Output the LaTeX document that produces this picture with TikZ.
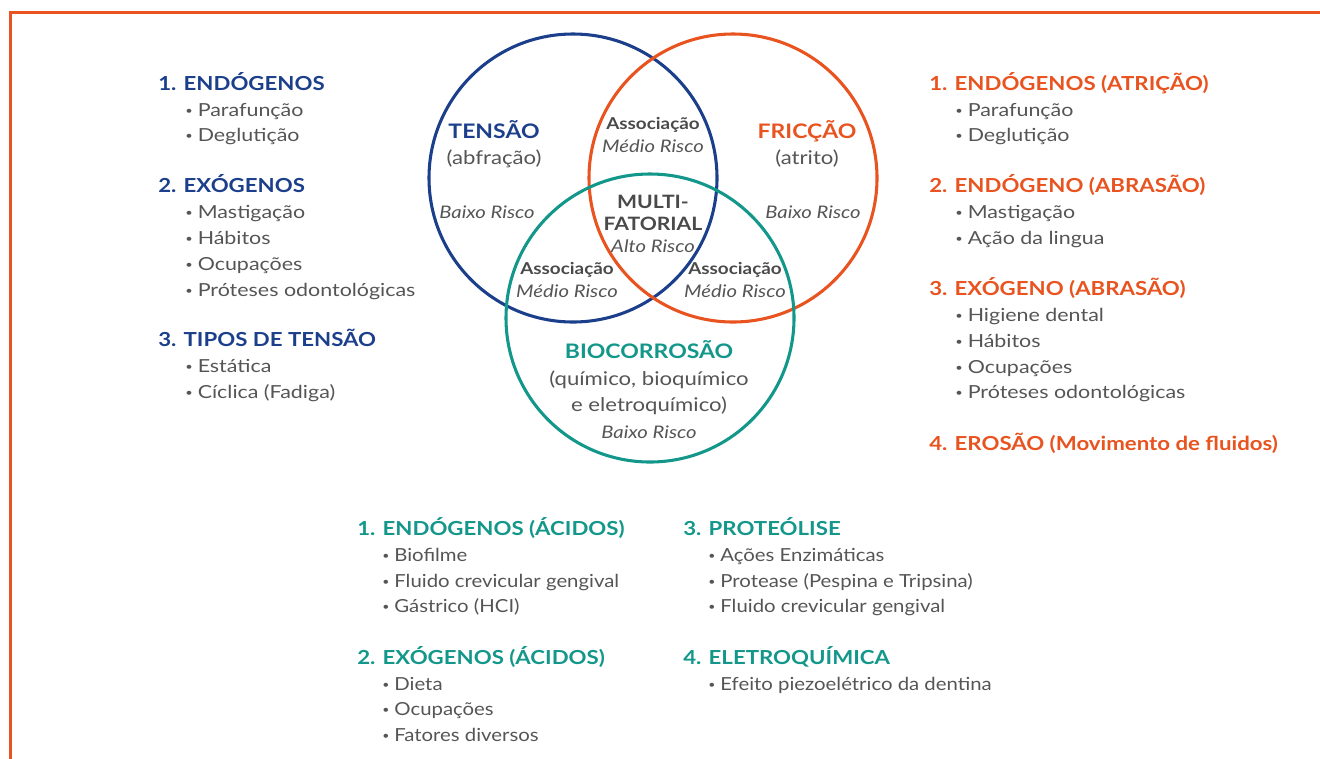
\documentclass[tikz,border=0pt]{standalone}
\usepackage{fontspec}
\setmainfont{Lato}
\newfontfamily\sideF{Lato}[FakeStretch=1.19]
\newfontfamily\headF{Lato}[FakeStretch=1.15]
\newfontfamily\botF{Lato}[FakeStretch=1.13]
\newfontfamily\vennF{Lato}[FakeStretch=1.17]
\usepackage{graphicx}
\definecolor{navy}{HTML}{1C3F8C}
\definecolor{orng}{HTML}{E8531F}
\definecolor{teal}{HTML}{13978A}
\definecolor{txtgray}{HTML}{555555}
\definecolor{dkgray}{HTML}{4A4A4A}
\newcommand\bul{\raisebox{0.12ex}{\scalebox{0.6}{\textbullet}}\hspace{0.28em}}
\tikzset{
  hd/.style={anchor=base west, inner sep=0pt, font=\headF\fontsize{14.5}{17}\selectfont\bfseries},
  itm/.style={anchor=base west, inner sep=0pt, font=\sideF\fontsize{13.5}{16}\selectfont, text=txtgray},
  bitm/.style={anchor=base west, inner sep=0pt, font=\botF\fontsize{13.5}{16}\selectfont, text=txtgray},
  vtitle/.style={anchor=base, inner sep=0pt, font=\headF\fontsize{15}{17}\selectfont\bfseries},
  vsub/.style={anchor=base, inner sep=0pt, font=\vennF\fontsize{14.2}{16}\selectfont, text=txtgray},
  vbold/.style={anchor=base, inner sep=0pt, font=\headF\fontsize{12.3}{14}\selectfont\bfseries, text=dkgray},
  vmulti/.style={anchor=base, inner sep=0pt, font=\headF\fontsize{13.8}{15}\selectfont\bfseries, text=dkgray},
  vrisk/.style={anchor=base, inner sep=0pt, font=\vennF\fontsize{13}{14}\selectfont\itshape, text=txtgray},
  ring/.style={line width=2.3pt},
}
\begin{document}
\begin{tikzpicture}[x=0.75pt,y=-0.75pt]
\useasboundingbox (0,0) rectangle (1320,758);
% frame
\draw[orng, line width=1.9pt] (10.5,760) -- (10.5,12.5) -- (1322,12.5);
% circles
\draw[ring, navy] (573,178) circle[radius=144];
\draw[ring, orng] (733,178) circle[radius=144];
\draw[ring, teal] (650,318) circle[radius=144];
% venn labels
\node[vtitle, text=navy] (tens) at (494,138) {TENSÃO};
\node[vsub] (abf) at (494,164) {(abfração)};
\node[vrisk] (bl) at (487,218) {Baixo Risco};
\node[vtitle, text=orng] (fric) at (807,138) {FRICÇÃO};
\node[vsub] (atr) at (807,164) {(atrito)};
\node[vrisk] (br) at (813,218) {Baixo Risco};
\node[vbold] (at) at (653,129) {Associação};
\node[vrisk] (mt) at (653,152) {Médio Risco};
\node[vmulti] (m1) at (653,208) {MULTI-};
\node[vmulti] (m2) at (653,230) {FATORIAL};
\node[vrisk] (ar) at (653,252) {Alto Risco};
\node[vbold] (al) at (567,274) {Associação};
\node[vrisk] (ml) at (567,297) {Médio Risco};
\node[vbold] (ar2) at (735,274) {Associação};
\node[vrisk] (mr) at (735,297) {Médio Risco};
\node[vtitle, text=teal] (bio) at (649,358) {BIOCORROSÃO};
\node[vsub] (bq1) at (649,385) {(químico, bioquímico};
\node[vsub] (bq2) at (649,411) {e eletroquímico)};
\node[vrisk] (bb) at (649,438) {Baixo Risco};
% left column
\node[hd, text=navy] (a1) at (158,90) {1. ENDÓGENOS};
\node[itm] (a1a) at (185,116) {\bul Parafunção};
\node[itm] (a1b) at (185,141) {\bul Deglutição};
\node[hd, text=navy] (a2) at (158,192) {2. EXÓGENOS};
\node[itm] (a2a) at (185,218) {\bul Mastigação};
\node[itm] (a2b) at (185,244) {\bul Hábitos};
\node[itm] (a2c) at (185,270) {\bul Ocupações};
\node[itm] (a2d) at (185,296) {\bul Próteses odontológicas};
\node[hd, text=navy] (a3) at (158,346) {3. TIPOS DE TENSÃO};
\node[itm] (a3a) at (185,372) {\bul Estática};
\node[itm] (a3b) at (185,398) {\bul Cíclica (Fadiga)};
% right column
\node[hd, text=orng] (b1) at (929,90) {1. ENDÓGENOS (ATRIÇÃO)};
\node[itm] (b1a) at (955,116) {\bul Parafunção};
\node[itm] (b1b) at (955,141) {\bul Deglutição};
\node[hd, text=orng] (b2) at (929,192) {2. ENDÓGENO (ABRASÃO)};
\node[itm] (b2a) at (955,218) {\bul Mastigação};
\node[itm] (b2b) at (955,244) {\bul Ação da lingua};
\node[hd, text=orng] (b3) at (929,295) {3. EXÓGENO (ABRASÃO)};
\node[itm] (b3a) at (955,321) {\bul Higiene dental};
\node[itm] (b3b) at (955,347) {\bul Hábitos};
\node[itm] (b3c) at (955,373) {\bul Ocupações};
\node[itm] (b3d) at (955,398) {\bul Próteses odontológicas};
\node[hd, text=orng] (b4) at (929,450) {4. EROSÃO (Movimento de fluidos)};
% bottom columns
\node[hd, text=teal] (c1) at (357,535) {1. ENDÓGENOS (ÁCIDOS)};
\node[bitm] (c1a) at (382,561) {\bul Biofilme};
\node[bitm] (c1b) at (382,587) {\bul Fluido crevicular gengival};
\node[bitm] (c1c) at (382,612) {\bul Gástrico (HCI)};
\node[hd, text=teal] (c2) at (357,664) {2. EXÓGENOS (ÁCIDOS)};
\node[bitm] (c2a) at (382,690) {\bul Dieta};
\node[bitm] (c2b) at (382,715) {\bul Ocupações};
\node[bitm] (c2c) at (382,741) {\bul Fatores diversos};
\node[hd, text=teal] (d1) at (683,535) {3. PROTEÓLISE};
\node[bitm] (d1a) at (708,561) {\bul Ações Enzimáticas};
\node[bitm] (d1b) at (708,587) {\bul Protease (Pespina e Tripsina)};
\node[bitm] (d1c) at (708,612) {\bul Fluido crevicular gengival};
\node[hd, text=teal] (d2) at (683,664) {4. ELETROQUÍMICA};
\node[bitm] (d2a) at (708,690) {\bul Efeito piezoelétrico da dentina};
\end{tikzpicture}
\end{document}
